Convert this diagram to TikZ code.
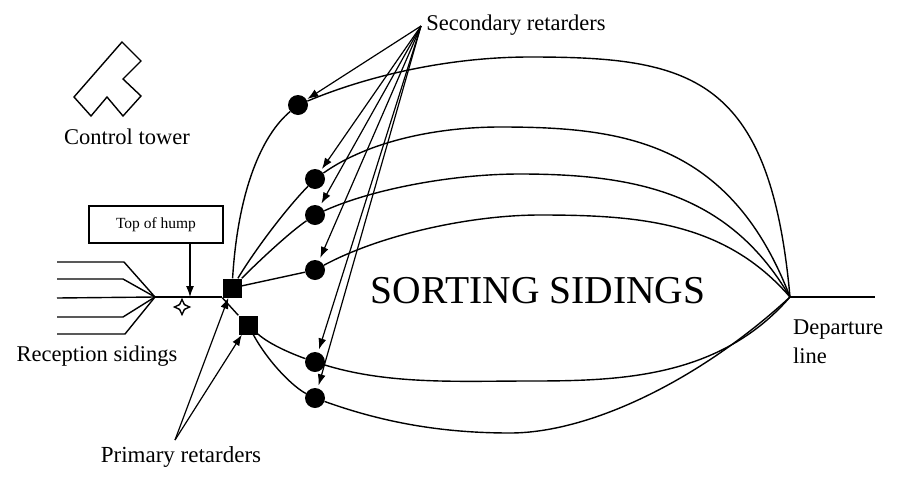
\documentclass[tikz,border=0pt]{standalone}
\usepackage{fontspec}
\setmainfont{Liberation Serif}
\usetikzlibrary{arrows.meta,shapes.geometric}
\tikzset{retarder/.style = {shape=circle,fill=black,minimum size=20pt,inner sep=0pt}}
\tikzset{primary/.style = {shape=rectangle,fill=black,minimum size=19pt,inner sep=0pt}}
\tikzset{track/.style = {line width=1.4pt}}
\tikzset{edge/.style = {->,> = {Latex[length=11pt,width=8pt]},line width=1.2pt}}
\tikzset{lbl/.style = {font=\fontsize{22.5}{29}\selectfont,inner sep=0pt}}

\begin{document}
\begin{tikzpicture}[x=1pt,y=-1pt]
          \useasboundingbox (0,0) rectangle (905,480);

          \node[primary] (S1) at (232,288) {};
          \node[primary] (S2) at (248,325) {};
          \node[retarder] (C1) at (298,105) {};
          \node[retarder] (C2) at (315,179) {};
          \node[retarder] (C3) at (315,215) {};
          \node[retarder] (C4) at (315,270) {};
          \node[retarder] (C5) at (315,362) {};
          \node[retarder] (C6) at (315,398) {};

          \coordinate (J) at (155,297);
          \coordinate (D) at (790,297);
          \coordinate (E) at (875,297);
          \coordinate (hump) at (190,297);
          \coordinate (SP) at (421,26);
          \coordinate (PP) at (175,440);

          % reception sidings
          \coordinate (R1) at (57,262);
          \coordinate (R2) at (57,279);
          \coordinate (R3) at (57,298);
          \coordinate (R4) at (57,317);
          \coordinate (R5) at (57,334);
          \draw[track] (R1) -- (124,262) -- (J);
          \draw[track] (R2) -- (123,279) -- (J);
          \draw[track] (R3) -- (J);
          \draw[track] (R4) -- (123,317) -- (J);
          \draw[track] (R5) -- (125,334) -- (J);
          \draw[track] (J) -- (S1.west |- J);
          \draw[track] (S1.south west) -- (S2.north west);
          \draw[track] (D) -- (E);

          % sidings
          \draw[track] (S1) .. controls (238,190) and (262,135) .. (C1);
          \draw[track] (S1) .. controls (255,250) and (285,210) .. (C2);
          \draw[track] (S1) .. controls (260,260) and (290,232) .. (C3);
          \draw[track] (S1) -- (C4);
          \draw[track] (S2) .. controls (270,345) and (295,355) .. (C5);
          \draw[track] (S2) .. controls (270,365) and (295,388) .. (C6);
          \draw[track] (C1) .. controls (370,75) and (450,57) .. (530,57) .. controls (690,57) and (770,75) .. (D);
          \draw[track] (C2) .. controls (370,140) and (440,127) .. (500,127) .. controls (620,127) and (730,140) .. (D);
          \draw[track] (C3) .. controls (370,190) and (450,174) .. (520,174) .. controls (640,174) and (730,195) .. (D);
          \draw[track] (C4) .. controls (380,235) and (470,215) .. (540,215) .. controls (640,215) and (725,222) .. (D);
          \draw[track] (C5) .. controls (390,385) and (460,381) .. (530,381) .. controls (620,381) and (720,378) .. (D);
          \draw[track] (C6) .. controls (390,425) and (450,433) .. (510,433) .. controls (590,433) and (700,380) .. (D);

          % control tower
          \draw[track] (122,42) -- (141,61) -- (123,79) -- (141,96) -- (123,116)
            -- (107,97) -- (91,116) -- (74,97) -- cycle;
          \node[lbl] (tower) at (127,137) {Control tower};

          \node[draw,line width=1.2pt,minimum width=134pt,minimum height=37pt,inner sep=0pt,font=\fontsize{15.5}{18}\selectfont] (box) at (156,224.5) {Top of hump};
          \node[shape=star,star points=4,star point ratio=2.2,draw,line width=1.4pt,minimum size=15pt,inner sep=0pt] (crest) at (182,307) {};

          \path[edge] (box.south -| hump) edge (hump);
          \path[edge] (SP) edge [shorten >=1pt] (C1);
          \path[edge] (SP) edge [shorten >=2pt] (C2);
          \path[edge] (SP) edge [shorten >=3pt] (C3);
          \path[edge] (SP) edge [shorten >=3pt] (C4);
          \path[edge] (SP) edge [shorten >=3pt] (C5);
          \path[edge] (SP) edge [shorten >=3pt] (C6);
          \path[edge] (PP) edge (S1);
          \path[edge] (PP) edge (S2);

          \node[lbl] (secondary) at (516,25) {Secondary retarders};
          \node[lbl,font=\fontsize{23}{29}\selectfont] (primarylbl) at (181,457) {Primary retarders};
          \node[lbl] (reception) at (97,356) {Reception sidings};
          \node[lbl,align=left,anchor=north west] (departure) at (793,320) {Departure\\line};
          \node[inner sep=0pt,font=\fontsize{39.5}{42}\selectfont] (sorting) at (538,291) {SORTING SIDINGS};
        \end{tikzpicture}
\end{document}
